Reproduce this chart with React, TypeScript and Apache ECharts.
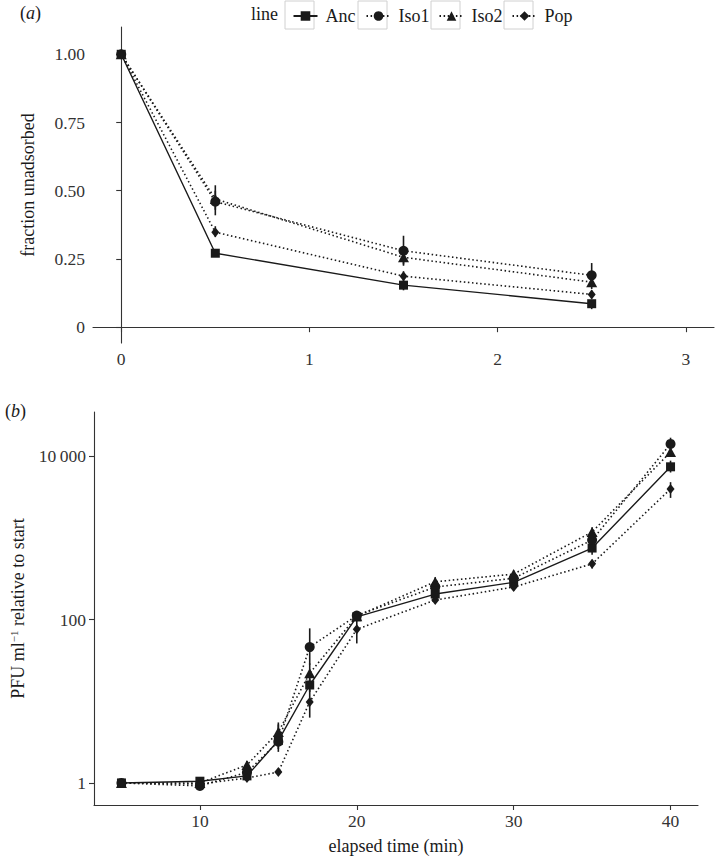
import React, { useEffect, useRef } from 'react';
import * as echarts from 'echarts';

// ---------- data ----------
const lineNames = ['Anc', 'Iso1', 'Iso2', 'Pop'];

// panel (a): fraction unadsorbed vs time
const timeA = [0, 0.5, 1.5, 2.5];
const ancA = [1.0, 0.271, 0.154, 0.086];
const iso1A = [1.0, 0.46, 0.28, 0.19];
const iso2A = [1.0, 0.47, 0.256, 0.165];
const popA = [1.0, 0.348, 0.187, 0.12];
const ancALo = [0.99, 0.26, 0.135, 0.066];
const ancAHi = [1.01, 0.282, 0.172, 0.1];
const iso1ALo = [0.99, 0.41, 0.23, 0.15];
const iso1AHi = [1.01, 0.52, 0.335, 0.235];
const iso2ALo = [0.99, 0.43, 0.225, 0.14];
const iso2AHi = [1.01, 0.5, 0.28, 0.19];
const popALo = [0.99, 0.33, 0.17, 0.105];
const popAHi = [1.01, 0.37, 0.205, 0.135];
const ticksAX = [0, 1, 2, 3];
const ticksAY = [0, 0.25, 0.5, 0.75, 1];

// panel (b): PFU relative to start vs elapsed time
const timeB = [5, 10, 13, 15, 17, 20, 25, 30, 35, 40];
const ancB = [1.0, 1.05, 1.22, 3.3, 15.8, 108, 205, 285, 750, 7400];
const iso1B = [1.0, 0.92, 1.35, 3.2, 46, 112, 250, 320, 940, 14100];
const iso2B = [1.0, 1.0, 1.66, 4.2, 22, 110, 290, 360, 1180, 11200];
const popB = [1.0, 0.97, 1.15, 1.36, 9.8, 76, 173, 250, 480, 3970];
const ancBLo = [1, 0.98, 1.15, 2.4, 13, 98, 190, 260, 620, 6300];
const ancBHi = [1, 1.12, 1.3, 5.5, 19, 118, 225, 305, 900, 8800];
const iso1BLo = [1, 0.88, 1.25, 2.6, 28, 100, 225, 290, 830, 12000];
const iso1BHi = [1, 0.97, 1.45, 4.0, 78, 125, 275, 350, 1060, 16800];
const iso2BLo = [1, 0.95, 1.5, 3.6, 17, 100, 260, 320, 1000, 9800];
const iso2BHi = [1, 1.05, 1.85, 5.2, 29, 122, 330, 400, 1350, 13000];
const popBLo = [1, 0.93, 1.08, 1.25, 6.3, 51, 158, 225, 420, 3080];
const popBHi = [1, 1.01, 1.25, 1.48, 14, 100, 190, 280, 540, 4800];
const ticksBX = [10, 20, 30, 40];
const ticksBY = [1, 100, 10000];

// ---------- styles ----------
const INK = '#1a1a1a';
const AXIS = '#333333';
const FONT = "'Liberation Serif', 'Times New Roman', Times, serif";
const symbols = ['rect', 'circle', 'triangle', 'diamond'];
const symbolSizes: any[] = [9, 10, [11, 10], [8, 10]];
const lineTypes: any[] = ['solid', [1.5, 2.6], [1.5, 2.6], [1.5, 2.6]];

function lineSeries(i: number, xs: number[], ys: number[], ax: number) {
  return {
    type: 'line',
    name: lineNames[i],
    xAxisIndex: ax,
    yAxisIndex: ax,
    data: xs.map((x, k) => [x, ys[k]]),
    symbol: symbols[i],
    symbolSize: symbolSizes[i],
    showAllSymbol: true,
    itemStyle: { color: INK, borderWidth: 0 },
    lineStyle: { color: INK, width: i === 0 ? 1.4 : 1.6, type: lineTypes[i], cap: 'butt' },
    z: 4,
    silent: true,
  };
}

function errSeries(i: number, xs: number[], lo: number[], hi: number[], ax: number) {
  return {
    type: 'custom',
    name: lineNames[i] + ' err',
    xAxisIndex: ax,
    yAxisIndex: ax,
    data: xs.map((x, k) => [x, lo[k], hi[k]]),
    encode: { x: 0, y: [1, 2] },
    renderItem: (_p: any, api: any) => {
      const a = api.coord([api.value(0), api.value(1)]);
      const b = api.coord([api.value(0), api.value(2)]);
      return {
        type: 'line',
        shape: { x1: a[0], y1: a[1], x2: b[0], y2: b[1] },
        style: { stroke: INK, lineWidth: 1.6 },
      };
    },
    z: 3,
    silent: true,
  };
}

const axisCommon = {
  axisLine: { show: true, lineStyle: { color: AXIS, width: 1.1 } },
  axisTick: { show: true, length: 5, lineStyle: { color: AXIS, width: 1.1 } },
  splitLine: { show: false },
};

const boxes = [285, 358, 431, 504];

export default function App() {
  const ref = useRef<HTMLDivElement>(null);
  useEffect(() => {
    document.body.style.margin = '0';
    const chart = echarts.init(ref.current!, undefined, { renderer: 'svg' });
    const option: any = {
      animation: false,
      backgroundColor: '#ffffff',
      textStyle: { fontFamily: FONT },
      grid: [
        { left: 93, right: 1, top: 27, height: 316 },
        { left: 93, right: 17, top: 412, height: 393 },
      ],
      legend: boxes.map((bx, i) => ({
        data: [lineNames[i]],
        left: bx + 2.5,
        top: 2,
        itemWidth: 24,
        itemHeight: 12,
        selectedMode: false,
        textStyle: { fontFamily: FONT, fontSize: 18, color: INK, padding: [0, 0, 0, 3] },
      })),
      xAxis: [
        {
          type: 'value',
          gridIndex: 0,
          min: -0.15,
          max: 3.15,
          ...axisCommon,
          axisTick: { ...axisCommon.axisTick, customValues: ticksAX },
          axisLabel: { customValues: ticksAX, color: AXIS, fontSize: 17.5, fontFamily: FONT, margin: 7 },
        },
        {
          type: 'value',
          gridIndex: 1,
          min: 3.25,
          max: 41.75,
          name: 'elapsed time (min)',
          nameLocation: 'middle',
          nameGap: 32,
          nameTextStyle: { fontFamily: FONT, fontSize: 18, color: INK },
          ...axisCommon,
          axisTick: { ...axisCommon.axisTick, customValues: ticksBX },
          axisLabel: { customValues: ticksBX, color: AXIS, fontSize: 17.5, fontFamily: FONT, margin: 7 },
        },
      ],
      yAxis: [
        {
          type: 'value',
          gridIndex: 0,
          min: -0.058,
          max: 1.1,
          name: 'fraction unadsorbed',
          nameLocation: 'middle',
          nameGap: 56,
          nameRotate: 90,
          nameTextStyle: { fontFamily: FONT, fontSize: 18, color: INK },
          ...axisCommon,
          axisTick: { ...axisCommon.axisTick, customValues: ticksAY },
          axisLabel: {
            customValues: ticksAY,
            color: AXIS,
            fontSize: 17.5,
            fontFamily: FONT,
            margin: 8,
            formatter: (v: number) => (v === 0 ? '0' : v.toFixed(2)),
          },
        },
        {
          type: 'log',
          gridIndex: 1,
          logBase: 10,
          min: Math.pow(10, -0.27),
          max: Math.pow(10, 4.54),
          name: '{n|PFU ml}{s|−1}{n| relative to start}',
          nameLocation: 'middle',
          nameGap: 66,
          nameRotate: 90,
          nameTextStyle: {
            fontFamily: FONT,
            fontSize: 18,
            color: INK,
            rich: {
              n: { fontFamily: FONT, fontSize: 18, color: INK, lineHeight: 20 },
              s: { fontFamily: FONT, fontSize: 11, color: INK, lineHeight: 12, verticalAlign: 'top' },
            },
          },
          ...axisCommon,
          axisTick: { ...axisCommon.axisTick, customValues: ticksBY },
          axisLabel: {
            customValues: ticksBY,
            color: AXIS,
            fontSize: 17.5,
            fontFamily: FONT,
            margin: 8,
            formatter: (v: number) => (v >= 10000 ? '10\u2009000' : String(Math.round(v))),
          },
        },
      ],
      graphic: [
        {
          type: 'text',
          left: 20,
          top: 4,
          style: {
            text: '({i|a})',
            font: `18px ${FONT}`,
            fill: INK,
            rich: { i: { fontStyle: 'italic', fontFamily: FONT, fontSize: 18, fill: INK } },
          },
        },
        {
          type: 'text',
          left: 5,
          top: 402,
          style: {
            text: '({i|b})',
            font: `18px ${FONT}`,
            fill: INK,
            rich: { i: { fontStyle: 'italic', fontFamily: FONT, fontSize: 18, fill: INK } },
          },
        },
        {
          type: 'text',
          left: 251,
          top: 5,
          style: { text: 'line', font: `18px ${FONT}`, fill: INK },
        },
        ...boxes.map((bx) => ({
          type: 'rect',
          shape: { x: bx, y: 1, width: 29, height: 28 },
          style: { fill: 'none', stroke: '#d0d0d0', lineWidth: 1 },
          z: -1,
        })),
      ],
      series: [
        errSeries(0, timeA, ancALo, ancAHi, 0),
        errSeries(1, timeA, iso1ALo, iso1AHi, 0),
        errSeries(2, timeA, iso2ALo, iso2AHi, 0),
        errSeries(3, timeA, popALo, popAHi, 0),
        lineSeries(0, timeA, ancA, 0),
        lineSeries(1, timeA, iso1A, 0),
        lineSeries(2, timeA, iso2A, 0),
        lineSeries(3, timeA, popA, 0),
        errSeries(0, timeB, ancBLo, ancBHi, 1),
        errSeries(1, timeB, iso1BLo, iso1BHi, 1),
        errSeries(2, timeB, iso2BLo, iso2BHi, 1),
        errSeries(3, timeB, popBLo, popBHi, 1),
        lineSeries(0, timeB, ancB, 1),
        lineSeries(1, timeB, iso1B, 1),
        lineSeries(2, timeB, iso2B, 1),
        lineSeries(3, timeB, popB, 1),
      ],
    };
    chart.setOption(option);
    return () => chart.dispose();
  }, []);
  return (
    <div
      ref={ref}
      style={{ position: 'absolute', left: 0, top: 0, width: 715, height: 860 }}
    />
  );
}
